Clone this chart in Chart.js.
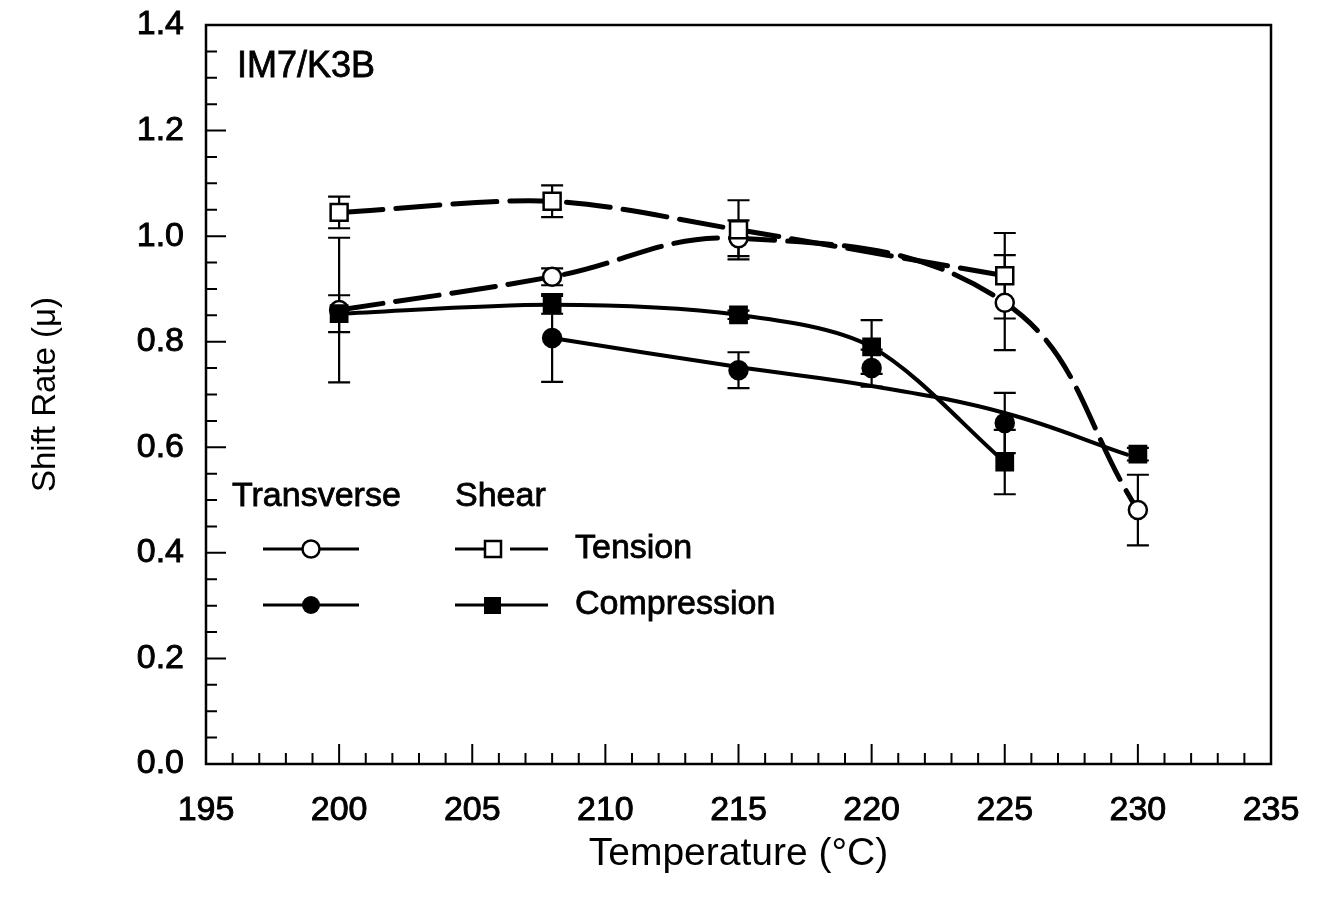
<!DOCTYPE html>
<html>
<head>
<meta charset="utf-8">
<script src="https://cdn.jsdelivr.net/npm/chart.js@4.4.1/dist/chart.umd.min.js"></script>
<style>
  html, body { margin: 0; padding: 0; background: #fff; }
  #wrap { width: 1326px; height: 914px; }
</style>
</head>
<body>
<div id="wrap"><canvas id="c" width="1326" height="914"></canvas></div>
<script>
// Transverse tension (open circles, dashed curve)
const transTensionTemp = [200, 208, 215, 225, 230];
const transTensionVal  = [0.860, 0.923, 0.996, 0.874, 0.481];
const transTensionErr  = [0.137, 0.016, 0.034, 0.090, 0.067];

// Shear tension (open squares, dashed curve)
const shearTensionTemp = [200, 208, 215, 225];
const shearTensionVal  = [1.045, 1.066, 1.012, 0.925];
const shearTensionErr  = [0.030, 0.030, 0.056, 0.081];

// Transverse compression (filled circles)
const transCompTemp = [208, 215, 220, 225];
const transCompVal  = [0.807, 0.746, 0.750, 0.646];
const transCompErr  = [0.083, 0.034, 0.035, 0.057];

// Smooth fitted curve drawn through the transverse compression data
const transCompFitTemp = [208, 215, 220, 225, 229.6];
const transCompFitVal  = [0.807, 0.752, 0.716, 0.665, 0.586];

// Shear compression (filled squares)
const shearCompTemp = [200, 208, 215, 220, 225, 230];
const shearCompVal  = [0.853, 0.870, 0.851, 0.790, 0.572, 0.587];
const shearCompErr  = [0.035, 0.017, 0.008, 0.051, 0.061, 0.012];
// the shear compression curve stops at 225 °C
const shearCompCurveCount = 5;

// Axis ticks
const xMin = 195, xMax = 235, xStep = 5;
const yMin = 0, yMax = 1.4, yStep = 0.2;

const FONT = "'Liberation Sans', Arial, sans-serif";

function pts(xs, ys) { return xs.map((x, i) => ({ x: x, y: ys[i] })); }

function curve(xs, ys, dashed, tension) {
  return {
    type: 'scatter', showLine: true, data: pts(xs, ys),
    borderColor: '#000', borderWidth: dashed ? 5 : 4,
    borderDash: dashed ? [44, 13] : [],
    tension: tension, pointRadius: 0, pointHoverRadius: 0,
    borderCapStyle: 'round', order: 2
  };
}

function markers(xs, ys, errs, style, filled, radius) {
  return {
    type: 'scatter', showLine: false, data: pts(xs, ys), errors: errs,
    pointStyle: style, pointRadius: radius, pointHoverRadius: radius,
    pointBackgroundColor: filled ? '#000' : '#fff',
    pointBorderColor: '#000', pointBorderWidth: 2.5, order: 1
  };
}

// Error bars drawn behind the markers
const errorBars = {
  id: 'errorBars',
  beforeDatasetsDraw(chart) {
    const { ctx, scales: { x, y } } = chart;
    ctx.save();
    ctx.strokeStyle = '#000';
    ctx.lineWidth = 2.2;
    chart.data.datasets.forEach(ds => {
      if (!ds.errors) return;
      ds.data.forEach((p, i) => {
        const e = ds.errors[i];
        const px = x.getPixelForValue(p.x);
        const top = y.getPixelForValue(p.y + e);
        const bot = y.getPixelForValue(p.y - e);
        ctx.beginPath();
        ctx.moveTo(px, top); ctx.lineTo(px, bot);
        ctx.moveTo(px - 11, top); ctx.lineTo(px + 11, top);
        ctx.moveTo(px - 11, bot); ctx.lineTo(px + 11, bot);
        ctx.stroke();
      });
    });
    ctx.restore();
  }
};

// Plot frame with inward major and minor ticks
const frameTicks = {
  id: 'frameTicks',
  afterDraw(chart) {
    const { ctx, chartArea: a, scales: { x, y } } = chart;
    ctx.save();
    ctx.strokeStyle = '#000';
    ctx.lineWidth = 2.5;
    ctx.strokeRect(a.left, a.top, a.right - a.left, a.bottom - a.top);
    ctx.lineWidth = 2;
    ctx.beginPath();
    for (let v = xMin; v <= xMax; v++) {
      const px = x.getPixelForValue(v);
      const len = (v - xMin) % xStep === 0 ? 20 : 11;
      ctx.moveTo(px, a.bottom); ctx.lineTo(px, a.bottom - len);
    }
    for (let i = 0; i <= 28; i++) {
      const py = y.getPixelForValue(i * 0.05);
      const len = i % 4 === 0 ? 20 : 11;
      ctx.moveTo(a.left, py); ctx.lineTo(a.left + len, py);
    }
    ctx.stroke();
    ctx.restore();
  }
};

// Material label and the symbol key inside the plot
const keyAndLabel = {
  id: 'keyAndLabel',
  afterDraw(chart) {
    const { ctx } = chart;
    ctx.save();
    ctx.fillStyle = '#000';
    ctx.strokeStyle = '#000';
    ctx.lineWidth = 0.8;
    ctx.textBaseline = 'middle';
    ctx.textAlign = 'left';
    const text = (s, x, y) => { ctx.fillText(s, x, y); ctx.strokeText(s, x, y); };
    ctx.font = `36px ${FONT}`;
    text('IM7/K3B', 237, 67);
    ctx.font = `34px ${FONT}`;
    text('Transverse', 232, 497);
    text('Shear', 455, 497);
    text('Tension', 575, 549);
    text('Compression', 575, 605);

    ctx.lineWidth = 3;
    const line = (x1, x2, yy) => { ctx.beginPath(); ctx.moveTo(x1, yy); ctx.lineTo(x2, yy); ctx.stroke(); };
    // row 1: open circle / open square
    line(263, 359, 549);
    line(455, 486, 549);
    line(510, 548, 549);
    ctx.lineWidth = 2.5;
    ctx.fillStyle = '#fff';
    ctx.beginPath(); ctx.arc(311, 549, 8.5, 0, Math.PI * 2); ctx.fill(); ctx.stroke();
    ctx.fillRect(485, 541, 16, 16); ctx.strokeRect(485, 541, 16, 16);
    // row 2: filled circle / filled square
    ctx.lineWidth = 3;
    line(263, 359, 605);
    line(455, 548, 605);
    ctx.fillStyle = '#000';
    ctx.beginPath(); ctx.arc(311, 605, 9, 0, Math.PI * 2); ctx.fill();
    ctx.fillRect(484, 597, 17, 17);
    ctx.restore();
  }
};

const datasets = [
  curve(shearTensionTemp, shearTensionVal, true, 0.3),
  curve(transTensionTemp, transTensionVal, true, 0.4),
  curve(shearCompTemp.slice(0, shearCompCurveCount), shearCompVal.slice(0, shearCompCurveCount), false, 0.3),
  curve(transCompFitTemp, transCompFitVal, false, 0.4),
  markers(shearCompTemp, shearCompVal, shearCompErr, 'rect', true, 11.5),
  markers(transCompTemp, transCompVal, transCompErr, 'circle', true, 9),
  markers(shearTensionTemp, shearTensionVal, shearTensionErr, 'rect', false, 12),
  markers(transTensionTemp, transTensionVal, transTensionErr, 'circle', false, 9)
];

// fixed axis band sizes; tick labels may overhang the plot edges
function fixX(s) { s.height = 150; s.paddingLeft = 0; s.paddingRight = 0; }
function fixY(s) { s.width = 206; s.paddingTop = 0; s.paddingBottom = 0; }

new Chart(document.getElementById('c'), {
  data: { datasets },
  options: {
    responsive: false,
    animation: false,
    events: [],
    layout: { padding: { left: 0, top: 25, right: 55, bottom: 0 } },
    plugins: { legend: { display: false }, tooltip: { enabled: false } },
    scales: {
      x: {
        type: 'linear', min: xMin, max: xMax,
        afterFit: fixX,
        grid: { display: false, drawTicks: false },
        border: { display: false },
        ticks: { stepSize: xStep, color: '#000', padding: 26, font: { family: FONT, size: 34 },
                 textStrokeColor: '#000', textStrokeWidth: 0.9 },
        title: { display: true, text: 'Temperature (°C)', color: '#000',
                 font: { family: FONT, size: 39 }, padding: { top: 0, bottom: 36 } }
      },
      y: {
        type: 'linear', min: yMin, max: yMax,
        afterFit: fixY,
        grid: { display: false, drawTicks: false },
        border: { display: false },
        ticks: { stepSize: yStep, color: '#000', padding: 22, font: { family: FONT, size: 34 },
                 textStrokeColor: '#000', textStrokeWidth: 0.9,
                 callback: v => v.toFixed(1) },
        title: { display: true, text: 'Shift Rate (μ)', color: '#000',
                 font: { family: FONT, size: 33 }, padding: { top: 26, bottom: 0 } }
      }
    }
  },
  plugins: [errorBars, frameTicks, keyAndLabel]
});
</script>
</body>
</html>
